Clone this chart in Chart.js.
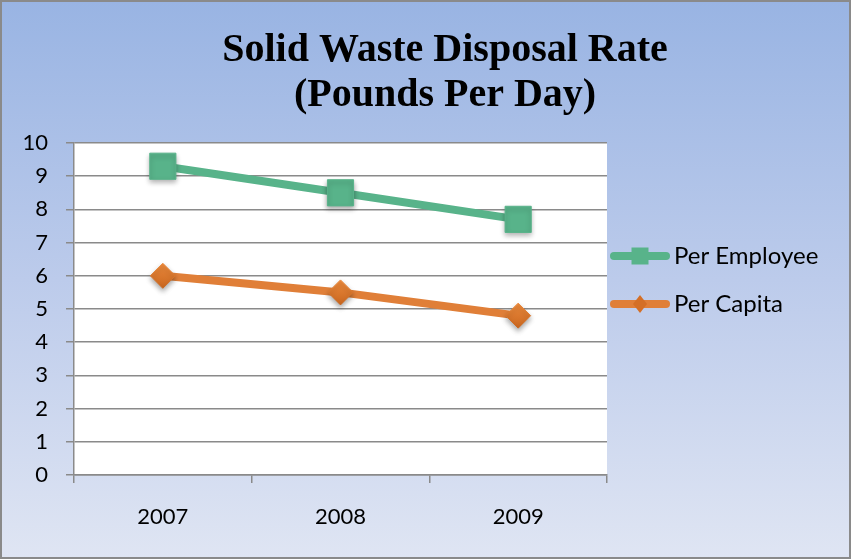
<!DOCTYPE html>
<html>
<head>
<meta charset="utf-8">
<script src="https://cdn.jsdelivr.net/npm/chart.js@4.4.1/dist/chart.umd.min.js"></script>
<style>
  html, body { margin: 0; padding: 0; background: #ffffff; }
  #frame {
    position: absolute; left: 0; top: 0;
    width: 851px; height: 559px; box-sizing: border-box;
    border: 2px solid #8a8a8a;
    background: linear-gradient(to bottom, #99b4e3 0%, #bccbeb 50%, #dfe5f3 100%);
  }
  #wrap { position: absolute; left: 0; top: 0; width: 847px; height: 555px; }
</style>
</head>
<body>
<div id="frame"><div id="wrap"><canvas id="c" width="847" height="555"></canvas></div></div>
<script>
const categories = ['2007', '2008', '2009'];
const perEmployee = [9.3, 8.5, 7.7];
const perCapita = [6.0, 5.5, 4.8];
const titleLines = ['Solid Waste Disposal Rate', '(Pounds Per Day)'];
const seriesNames = ['Per Employee', 'Per Capita'];

const GREEN = '#58b38a';
const ORANGE = '#e07f38';

function legendSample(color, shape) {
  const c = document.createElement('canvas');
  c.width = 68; c.height = 30;
  const g = c.getContext('2d');
  g.strokeStyle = color; g.lineWidth = 8; g.lineCap = 'round';
  g.beginPath(); g.moveTo(12, 15); g.lineTo(64, 15); g.stroke();
  g.fillStyle = color;
  if (shape === 'rect') {
    g.fillRect(38 - 8.5, 15 - 8.5, 17, 17);
  } else {
    g.beginPath();
    g.moveTo(38, 15 - 9); g.lineTo(38 + 7, 15); g.lineTo(38, 15 + 9); g.lineTo(38 - 7, 15); g.closePath();
    g.fillStyle = '#d46f26';
    g.fill();
  }
  return c;
}
const sampleEmp = legendSample(GREEN, 'rect');
const sampleCap = legendSample(ORANGE, 'diamond');

// soft drop shadow under the markers
const PE = Chart.PointElement;
const origPointDraw = PE.prototype.draw;
PE.prototype.draw = function (ctx, area) {
  ctx.save();
  ctx.shadowColor = 'rgba(0,0,0,0.33)';
  ctx.shadowBlur = 5;
  ctx.shadowOffsetY = 3;
  origPointDraw.call(this, ctx, area);
  ctx.restore();
};

const plotBg = {
  id: 'plotBg',
  beforeDraw(chart) {
    const a = chart.chartArea, ctx = chart.ctx;
    ctx.save(); ctx.fillStyle = '#ffffff';
    ctx.fillRect(a.left, a.top, a.right - a.left, a.bottom - a.top);
    ctx.restore();
  }
};
const blockPlace = {
  id: 'blockPlace',
  afterLayout(chart) {
    const lg = chart.legend;
    if (lg) { lg.left = 584; lg.right = 847; lg.top = 218; lg.bottom = 555; }
    const tb = chart.titleBlock;
    if (tb) { tb.left = 39; tb.right = 847; }
  }
};

const tickFont = { family: 'Lato, "Open Sans", sans-serif', size: 22 };
const legendFont = { family: 'Lato, "Open Sans", sans-serif', size: 24 };

function diamondFill(ctx) {
  const chart = ctx.chart;
  const ys = chart.scales && chart.scales.y;
  if (!ys || ctx.parsed === undefined || !chart.chartArea) return '#df7a2e';
  const py = ys.getPixelForValue(ctx.parsed.y);
  const gr = chart.ctx.createLinearGradient(0, py - 13, 0, py + 13);
  gr.addColorStop(0, '#ec8a3c');
  gr.addColorStop(1, '#c9661f');
  return gr;
}

const chart = new Chart(document.getElementById('c'), {
  type: 'line',
  data: {
    labels: categories,
    datasets: [
      { label: seriesNames[0], data: perEmployee, borderColor: GREEN, backgroundColor: GREEN,
        borderWidth: 8, pointStyle: 'rect', pointRadius: 18.5, pointHoverRadius: 18.5,
        pointBackgroundColor: GREEN, pointBorderColor: GREEN, pointBorderWidth: 1, tension: 0 },
      { label: seriesNames[1], data: perCapita, borderColor: ORANGE, backgroundColor: ORANGE,
        borderWidth: 8, pointStyle: 'rectRot', pointRadius: 12.5, pointHoverRadius: 12.5,
        pointBackgroundColor: diamondFill, pointBorderColor: diamondFill, pointBorderWidth: 1, tension: 0 }
    ]
  },
  options: {
    responsive: false,
    animation: false,
    layout: { padding: { left: 0, right: 0, top: 0, bottom: 0 } },
    plugins: {
      title: {
        display: true, text: titleLines, color: '#000000',
        font: { family: '"Liberation Serif", "Times New Roman", serif', size: 40, weight: 'bold', lineHeight: 1.14 },
        padding: { top: 25.5, bottom: 24.3 }
      },
      legend: {
        display: true, position: 'right', align: 'start',
        labels: {
          usePointStyle: true, pointStyleWidth: 52, padding: 24, color: '#000000', font: legendFont,
          generateLabels(ch) {
            return ch.data.datasets.map((ds, i) => ({
              text: ds.label, pointStyle: i === 0 ? sampleEmp : sampleCap,
              fillStyle: ds.borderColor, strokeStyle: ds.borderColor, lineWidth: 0,
              hidden: false, datasetIndex: i, fontColor: '#000000'
            }));
          }
        }
      },
      tooltip: { enabled: false }
    },
    scales: {
      x: {
        type: 'category', offset: true,
        grid: { offset: true, drawOnChartArea: false, drawTicks: true, tickLength: 8, color: '#8a8a8a', lineWidth: 1.5 },
        border: { display: true, color: '#8a8a8a', width: 1.5 },
        ticks: { color: '#000000', font: tickFont, padding: 21, maxRotation: 0 },
        afterFit(s) { s.height = 82; }
      },
      y: {
        min: 0, max: 10,
        grid: { drawTicks: true, tickLength: 8, color: '#8a8a8a', lineWidth: 1.5 },
        border: { display: true, color: '#8a8a8a', width: 1.5 },
        ticks: { stepSize: 1, color: '#000000', font: tickFont, padding: 18 },
        afterFit(s) { s.width = 72; }
      }
    }
  },
  plugins: [plotBg, blockPlace]
});

// reserve a fixed width on the right for the legend so the plot area ends at x = 605
const lg = chart.legend;
const origFit = lg.fit.bind(lg);
lg.fit = function () { origFit(); this.width = 242; };
chart.update();
</script>
</body>
</html>
